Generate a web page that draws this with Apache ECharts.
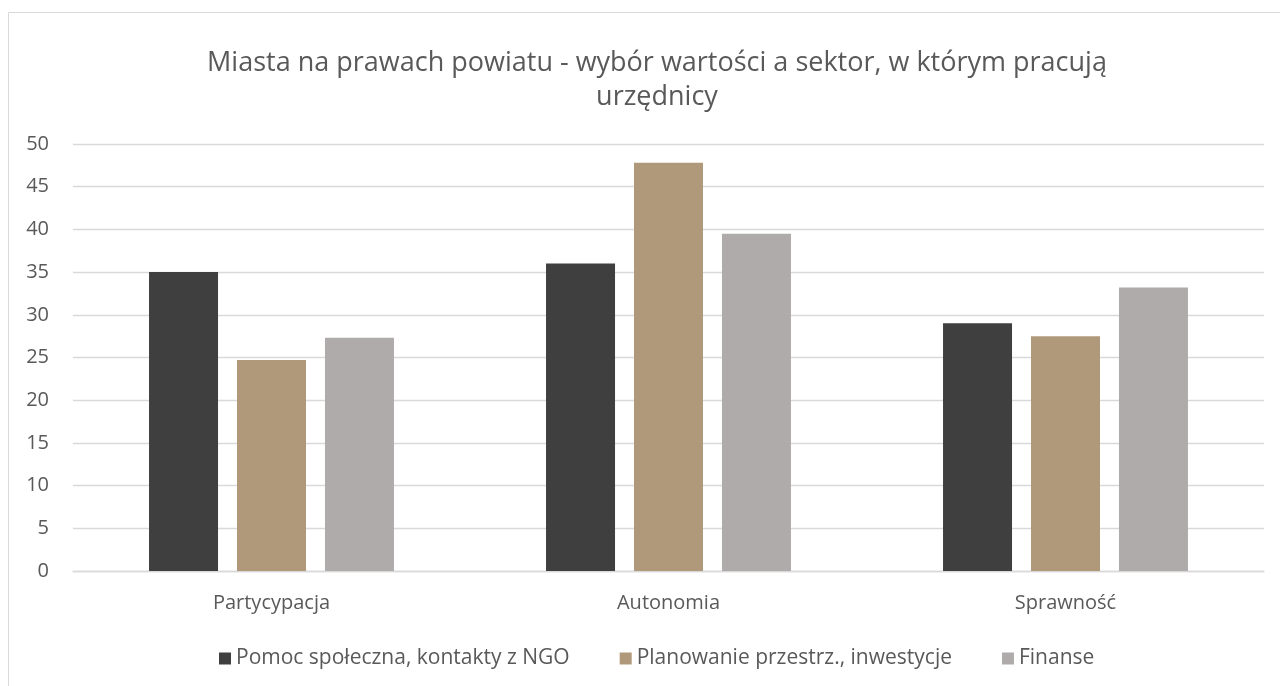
<!DOCTYPE html>
<html>
<head>
<meta charset="utf-8">
<script src="https://cdn.jsdelivr.net/npm/echarts@6/dist/echarts.min.js"></script>
<style>
  html, body { margin: 0; padding: 0; background: #fff; }
  #chart { width: 1280px; height: 686px; }
</style>
</head>
<body>
<div id="chart"></div>
<script>
// dane wykresu
const categories = ["Partycypacja", "Autonomia", "Sprawność"];
const seriesNames = [
  "Pomoc społeczna, kontakty z NGO",
  "Planowanie przestrz., inwestycje",
  "Finanse",
];
const pomocSpoleczna = [35, 36, 29];
const planowanie = [24.7, 47.8, 27.5];
const finanse = [27.3, 39.5, 33.2];
const colors = ["#3f3f3f", "#b0987a", "#aeabaa"];

const chart = echarts.init(document.getElementById("chart"));
const font = "'Open Sans', sans-serif";

const series = [pomocSpoleczna, planowanie, finanse].map((data, i) => ({
  name: seriesNames[i],
  type: "bar",
  barWidth: 69,
  barGap: "27.5%",
  itemStyle: { color: colors[i] },
  data: data,
}));

chart.setOption({
  animation: false,
  title: {
    text: "Miasta na prawach powiatu - wybór wartości a sektor, w którym pracują\nurzędnicy",
    left: 652,
    textAlign: "center",
    top: 41,
    textStyle: {
      fontFamily: font,
      fontSize: 27,
      fontWeight: "normal",
      color: "#595959",
      lineHeight: 34,
    },
  },
  graphic: [
    {
      type: "rect",
      shape: { x: 8.5, y: 12.5, width: 1300, height: 700 },
      style: { fill: "none", stroke: "#d9d9d9", lineWidth: 1 },
      silent: true,
    },
  ],
  legend: {
    top: 643,
    left: 214,
    itemWidth: 12,
    itemHeight: 12,
    itemGap: 50,
    icon: "rect",
    data: seriesNames,
    textStyle: { fontFamily: font, fontSize: 21, color: "#595959" },
  },
  grid: {
    top: 144,
    bottom: 115,
    left: 73,
    right: 16,
    containLabel: false,
  },
  xAxis: {
    type: "category",
    data: categories,
    axisLine: { show: true, lineStyle: { color: "#d9d9d9", width: 1.3 } },
    axisTick: { show: false },
    axisLabel: { fontFamily: font, fontSize: 20, color: "#595959", margin: 22 },
  },
  yAxis: {
    type: "value",
    min: 0,
    max: 50,
    interval: 5,
    axisLine: { show: false },
    axisTick: { show: false },
    axisLabel: { fontFamily: font, fontSize: 20, color: "#595959", margin: 24 },
    splitLine: { lineStyle: { color: "#d9d9d9", width: 1.3 } },
  },
  series: series,
});
</script>
</body>
</html>
